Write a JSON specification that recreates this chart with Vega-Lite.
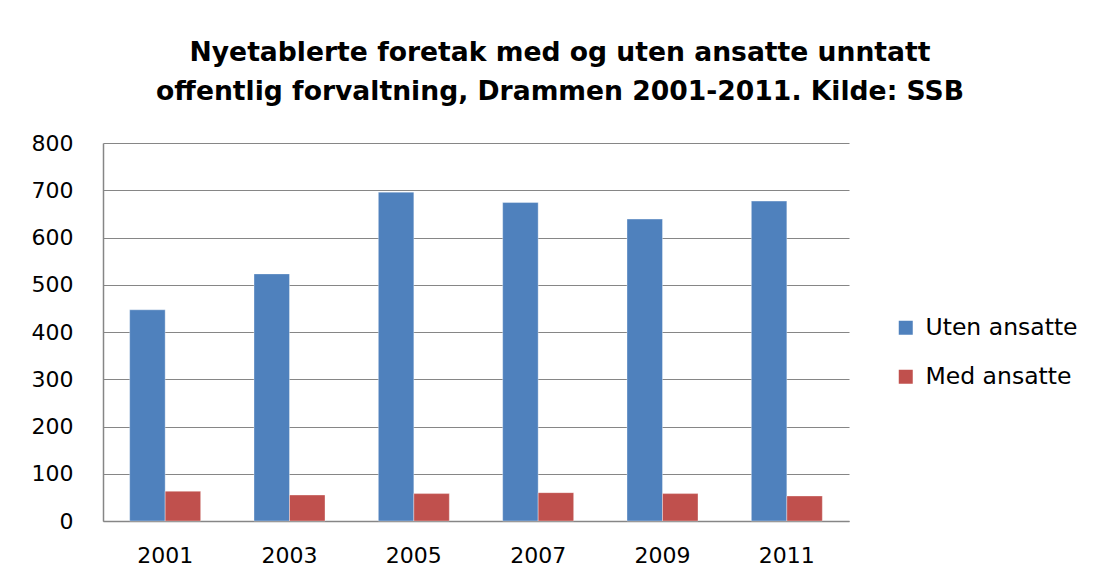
{
  "$schema": "https://vega.github.io/schema/vega-lite/v6.json",
  "autosize": {"type": "none"},
  "width": 746,
  "height": 378,
  "padding": {"left": 103, "top": 143, "right": 252, "bottom": 61},
  "background": "white",
  "title": {
    "text": ["Nyetablerte foretak med og uten ansatte unntatt", "offentlig forvaltning, Drammen 2001-2011. Kilde: SSB"],
    "font": "DejaVu Sans",
    "fontSize": 26.6,
    "fontWeight": "bold",
    "color": "#000000",
    "lineHeight": 39,
    "anchor": "middle",
    "frame": "group",
    "baseline": "alphabetic",
    "offset": 5,
    "dx": 84
  },
  "data": {
    "values": [
      {"year": "2001", "type": "Uten ansatte", "value": 447},
      {"year": "2001", "type": "Med ansatte", "value": 63},
      {"year": "2003", "type": "Uten ansatte", "value": 523},
      {"year": "2003", "type": "Med ansatte", "value": 55},
      {"year": "2005", "type": "Uten ansatte", "value": 696},
      {"year": "2005", "type": "Med ansatte", "value": 58},
      {"year": "2007", "type": "Uten ansatte", "value": 674},
      {"year": "2007", "type": "Med ansatte", "value": 60},
      {"year": "2009", "type": "Uten ansatte", "value": 639},
      {"year": "2009", "type": "Med ansatte", "value": 58},
      {"year": "2011", "type": "Uten ansatte", "value": 677},
      {"year": "2011", "type": "Med ansatte", "value": 53}
    ]
  },
  "mark": {"type": "bar", "stroke": "#ffffff", "strokeOpacity": 0.35, "strokeWidth": 1},
  "encoding": {
    "x": {
      "field": "year",
      "type": "nominal",
      "scale": {"paddingInner": 0.429, "paddingOuter": 0.2145},
      "axis": {
        "title": null,
        "labelAngle": 0,
        "labelFont": "DejaVu Sans",
        "labelFontSize": 22,
        "labelColor": "#000000",
        "labelPadding": 24,
        "ticks": false,
        "domainColor": "#868686",
        "domainWidth": 1.5,
        "grid": false
      }
    },
    "xOffset": {
      "field": "type",
      "type": "nominal",
      "sort": ["Uten ansatte", "Med ansatte"],
      "scale": {"paddingInner": 0, "paddingOuter": 0}
    },
    "y": {
      "field": "value",
      "type": "quantitative",
      "scale": {"domain": [0, 800], "nice": false},
      "axis": {
        "title": null,
        "values": [0, 100, 200, 300, 400, 500, 600, 700, 800],
        "labelFont": "DejaVu Sans",
        "labelFontSize": 22,
        "labelColor": "#000000",
        "labelPadding": 30,
        "ticks": false,
        "domainColor": "#868686",
        "domainWidth": 1.5,
        "gridColor": "#868686",
        "gridWidth": 1.2
      }
    },
    "color": {
      "field": "type",
      "type": "nominal",
      "sort": ["Uten ansatte", "Med ansatte"],
      "scale": {"domain": ["Uten ansatte", "Med ansatte"], "range": ["#4F81BD", "#C0504D"]},
      "legend": {
        "title": null,
        "orient": "none",
        "legendX": 791,
        "legendY": 173,
        "symbolType": "square",
        "symbolSize": 196,
        "symbolStrokeWidth": 0,
        "labelFont": "DejaVu Sans",
        "labelFontSize": 23.5,
        "labelColor": "#000000",
        "labelOffset": 8,
        "rowPadding": 24,
        "labelLimit": 300
      }
    }
  },
  "config": {"view": {"stroke": null}}
}
